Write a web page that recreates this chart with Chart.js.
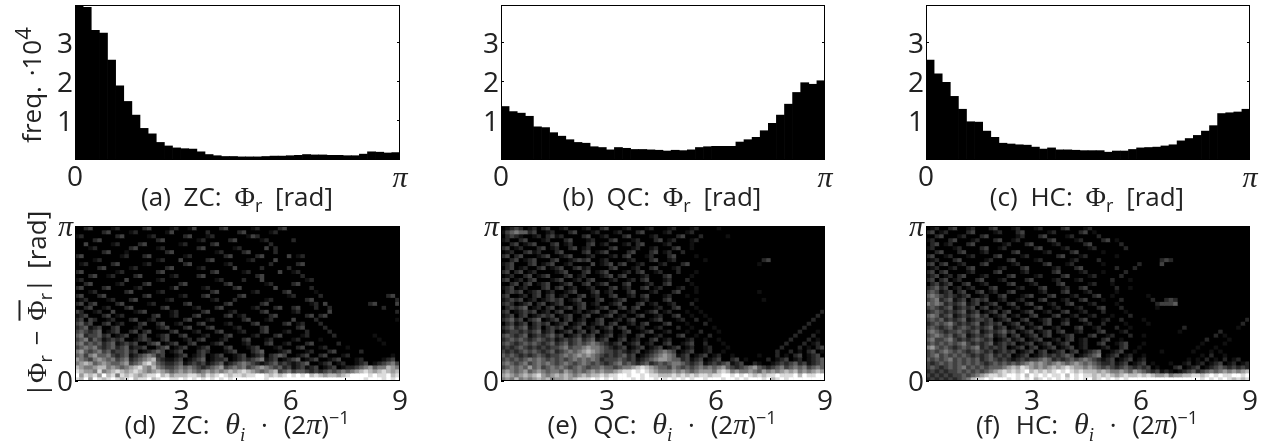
<!DOCTYPE html>
<html>
<head>
<meta charset="utf-8">
<script src="https://cdn.jsdelivr.net/npm/chart.js@4"></script>
<style>
  html, body { margin: 0; padding: 0; background: #fff; }
  #page { position: relative; width: 1274px; height: 444px; overflow: hidden; font-family: "Open Sans", sans-serif; color: #222; }
  canvas { position: absolute; }
  .cap { position: absolute; font-size: 26px; word-spacing: 6px; white-space: nowrap; transform: translateX(-50%); line-height: 28px; }
  .cap.low { word-spacing: 9px; }
  .ylab { position: absolute; font-size: 26px; word-spacing: 3px; white-space: nowrap; transform: translate(-50%, -50%) rotate(-90deg); line-height: 28px; }
  .m { font-family: "Liberation Serif", serif; font-size: 28px; }
  .i { font-family: "Liberation Serif", serif; font-style: italic; font-size: 30px; }
  .i sub { font-size: 19px; }
  sub, sup { font-size: 18px; line-height: 0; }
  .bar { text-decoration: overline; }
</style>
</head>
<body>
<div id="page">
  <canvas id="a"></canvas><canvas id="b"></canvas><canvas id="c"></canvas>
  <canvas id="d"></canvas><canvas id="e"></canvas><canvas id="f"></canvas>
  <div class="ylab" style="left:31px;top:85px">freq. ·10<sup style="font-size:22px">4</sup></div>
  <div class="ylab" style="left:36px;top:304px">|<span class="m">Φ</span><sub>r</sub> − <span class="m bar">Φ</span><sub>r</sub>| [rad]</div>
  <div class="cap" style="left:237px;top:182px">(a) ZC: <span class="m">Φ</span><sub>r</sub> [rad]</div>
  <div class="cap" style="left:662px;top:182px">(b) QC: <span class="m">Φ</span><sub>r</sub> [rad]</div>
  <div class="cap" style="left:1087px;top:182px">(c) HC: <span class="m">Φ</span><sub>r</sub> [rad]</div>
  <div class="cap low" style="left:237px;top:410px">(d) ZC: <span class="i">θ<sub>i</sub></span> · (2<span class="i">π</span>)<sup>−1</sup></div>
  <div class="cap low" style="left:662px;top:410px">(e) QC: <span class="i">θ<sub>i</sub></span> · (2<span class="i">π</span>)<sup>−1</sup></div>
  <div class="cap low" style="left:1087px;top:410px">(f) HC: <span class="i">θ<sub>i</sub></span> · (2<span class="i">π</span>)<sup>−1</sup></div>
</div>
<script>
// histogram heights, in units of 10^4, 40 bins over 0..pi
const histZC = [3.97,3.91,3.32,3.25,2.56,1.90,1.50,1.15,0.81,0.67,0.45,0.36,0.31,0.29,0.28,0.21,0.14,0.11,0.09,0.09,
  0.08,0.08,0.08,0.09,0.10,0.10,0.11,0.12,0.14,0.13,0.13,0.12,0.12,0.11,0.11,0.15,0.21,0.20,0.18,0.19];
const histQC = [1.37,1.24,1.20,1.12,0.85,0.83,0.70,0.61,0.52,0.45,0.43,0.34,0.32,0.26,0.32,0.30,0.27,0.27,0.26,0.25,
  0.23,0.25,0.24,0.26,0.32,0.34,0.35,0.35,0.35,0.46,0.52,0.58,0.75,0.94,1.15,1.43,1.73,1.98,1.94,2.03];
const histHC = [2.56,2.21,1.99,1.63,1.30,0.98,0.97,0.74,0.58,0.43,0.41,0.39,0.38,0.33,0.28,0.31,0.26,0.26,0.25,0.24,
  0.24,0.24,0.20,0.23,0.23,0.27,0.31,0.32,0.33,0.36,0.39,0.49,0.55,0.63,0.74,0.88,1.19,1.21,1.23,1.30];

// heatmap brightness read by eye, 0 = black .. 9 = white, top row first, 72 columns
const heatZC = [
  "002300001200 000230000120 013000002300 000120000230 000000000000 000000000000",
  "000000230000 120000001300 000002000000 230000012000 000000000000 000000000000",
  "120000000230 000012000000 230001200000 001320000000 000000000000 000000000000",
  "000023000000 000000230000 000120000023 000001200000 200000000000 000000000000",
  "003000001200 002300000001 200000230000 000000020000 000000000000 000000000000",
  "000120000000 230000120000 000230000001 200000302000 000000000000 000000000000",
  "000000230001 000000002300 000000012000 023000002000 000000000000 000000000000",
  "230000000012 000230000000 120000000230 000023000003 012000000000 000000000000",
  "000012000000 000000120003 000002300000 001200003000 000000000000 000000000000",
  "012000002300 000120000000 230000000120 000000020000 023000000000 000000000000",
  "000002300000 120000002300 000120000003 000002000002 000000000000 000000000000",
  "230000000120 000000230000 000000230000 012000000300 120000000000 000000000000",
  "000230012000 023000000120 000230000000 000023000000 002000000000 000000000000",
  "120000000003 000000120000 000000012000 020003000000 000120000000 000000000000",
  "002300000120 000230000002 300000000230 000000120000 230000000000 000000000000",
  "230000230000 012000000130 000012000002 300000003000 000020000000 000000000000",
  "000120000002 300000120000 000000230000 000120000023 000001000000 000000000000",
  "230002300000 000230000001 200023000000 230000000001 200000200000 000000000230",
  "012000012000 230000001200 000000120002 000000120000 000230000000 000000000002",
  "230230000230 000012000000 230000000230 000002300000 000012030000 000002300003",
  "002300120002 300000023000 001200023000 000120002300 230002002000 000000002000",
  "320012003000 012300000120 000023000012 000002300000 120000003000 000000000002",
  "123000230120 000002300120 002300000230 120000023000 000230230000 000000000000",
  "230320012000 230012000000 230001200000 023000120000 300002000000 000000000001",
  "342300230120 002300230012 000230000120 000230000023 012000200000 000000000000",
  "234123002300 012000123000 230002300001 200002300000 023000020000 000000000000",
  "343234012300 230230000230 001200023000 120002300012 000200002000 000000000000",
  "452334230123 002300123002 300012000230 000120002300 001200000200 000000100000",
  "345243123230 012320023000 120230001200 023000120000 120000100000 000000010000",
  "453434234123 230023401230 023000123000 012000230012 000230000020 000000001000",
  "345453234234 122300234012 300123000230 001230001200 023000120000 100000000000",
  "564345342334 230123430123 000232000123 000234000123 000120002300 000200000000",
  "453564453234 123454230012 301230123001 230123023430 012300230001 200000000010",
  "654356545345 234567321123 012340122301 232345123012 340123001230 001200001230",
  "567645654456 345786432234 123231234123 454321234232 123400123012 001230123453",
  "765567756545 678657543345 454323456345 453456543423 123123012301 223456455765",
  "876658567876 787656765456 565456565676 787654567345 344323234345 456787678767",
  "968786978587 876788978677 788768789878 878899878789 898978767767 899998988978",
  "879698789878 978897899889 898989898989 999999899999 999999999999 999989998989"
];
const heatQC = [
  "012320120230 012000120023 000120001200 012000120000 100000000000 000000000000",
  "134544230012 000230001200 012000230000 120001200000 000000000000 000000000000",
  "023210012023 120000230012 000230000120 000230002000 001000000000 000000000000",
  "120023000120 002300012000 230001200023 012000120000 000000000000 000000000000",
  "002301230002 301200023012 000120230000 120000100000 000000000000 000000000000",
  "230120002301 200230120000 230001200120 002300100000 000000000000 000000000000",
  "012002312000 230000230123 000023000230 120020000000 000000000000 000000000000",
  "230230001230 012300012000 120230001200 023000010000 000000000000 000000000000",
  "002301230002 300123230012 000012000230 012000000100 000000000023 000000000000",
  "123000230123 001200003012 302300120001 200023000000 000000000100 000000000000",
  "023012002301 230023120000 230001200230 001200000000 000000000000 000000000000",
  "230230120000 123000230123 000120230012 000200010000 000000000000 000000000000",
  "012002301230 002301200012 302300012000 230000100000 000000000000 000000000000",
  "230120230001 230012023000 120012023000 120002000000 000000000000 000000000000",
  "002302301230 012300230123 000230001200 230000100000 000000000000 000000000000",
  "123012000230 230120012000 230120023012 000120010000 000000000000 000000000000",
  "023230123012 001230002301 200023000120 002300010000 000000000100 000000000000",
  "230012023023 012002301200 230012023000 120001000000 000000000000 000000000000",
  "123230120123 230123000230 012300012000 230000010000 000000000010 000000000000",
  "232012302301 230012301200 123000230120 012000200000 000000000000 000000000000",
  "023234012023 012302300123 002302300012 002300010000 000000000000 000000000000",
  "230123230120 230012012300 230012001230 120001001000 000000000000 000000000002",
  "123023012323 012300230012 301200230012 002300100100 000000000000 000000000020",
  "234230234012 302301200230 012023000123 000120020010 000000000000 000000000200",
  "023123023230 123012301230 230012023000 230001000200 000000000000 000000002000",
  "234234123023 230123012012 302300120012 000200100001 000000000000 000000020000",
  "123323234123 012302302301 200230012300 120001002000 100000000000 000000200010",
  "343234123234 230123123012 301200230012 000230010020 000000000000 000002000200",
  "234343234323 123234234123 002301200230 120001200100 100000000000 000020002010",
  "343234343234 234234345432 123012301200 230012300200 010000000000 000200020120",
  "232343232323 345344565543 212301230123 012301200120 001000000000 002000201023",
  "323234343234 234545676543 323212301234 543012300120 010000000000 020020102301",
  "434323234323 345456565432 323423012345 654123012301 200100000100 020102301230",
  "343434545434 343454545423 334323123456 654423123012 300230100002 012301201234",
  "454345345454 345434543432 345343234234 345543234123 234123002100 123234231234",
  "345454645345 454345434454 434556787654 435434345454 564323456432 345345453454",
  "565456456545 546545456565 567889898765 556565456665 787565565465 656767565676",
  "676567678656 767656767787 889989989887 778787878878 899898987878 898889798899",
  "565756567675 667678889898 989998989989 898989899899 989989899989 789899999999"
];
const heatHC = [
  "012002300120 002300012000 120000230001 200000000000 000000000000 000000000000",
  "230120000230 000120002300 000120000023 010000000000 000000000000 000000000000",
  "002300012000 230000001200 023000012000 002000000000 000000000000 000000000000",
  "120002300012 000230012000 000230000120 000230100000 000000000000 000000000000",
  "023012000230 000001200023 000012000002 300000020000 000000000000 000000000000",
  "120000120000 230012000000 230000120000 120000002000 000000000000 000000000000",
  "002300023000 120000023000 001200002300 000100000000 000000000000 000000000000",
  "230012000120 000230000120 000002300012 000000100000 000000000000 000000000000",
  "012000230000 012000230000 120000001200 002000000000 000023200000 000000000000",
  "230230012000 230000012000 002300012000 000100000002 000030000000 000000000000",
  "012001200230 000012000230 000012000230 000000200020 000000000000 000000000000",
  "230230000120 000230000120 000023000012 000100002000 000000000000 000000000000",
  "123012023000 120000230000 120000230000 120000020000 000000000000 000000000000",
  "230230120002 300012000023 000012000120 000002000100 000000000000 000000000000",
  "023123002300 120000230001 200002300000 120001000000 000000000000 000000000000",
  "234230120120 002300001200 023000120023 000000200100 000000000000 000000000000",
  "343123023002 301200230000 012000230001 200000100000 000000000000 000000000000",
  "454323212300 120023000123 000230001200 023001000000 010000000000 000000000000",
  "345234123023 230012001200 023000120023 000100020000 002002320000 000000000000",
  "545423234123 012300230023 000120023000 120000100000 000233340000 000000000000",
  "343234123230 230120012000 230012000120 002300020000 000100000000 000000000000",
  "234323234123 012302300123 001200230012 000200001000 000000000000 000000000000",
  "454234123234 230123012002 300023001200 120001000200 000000000000 000000000000",
  "343423234123 323012300230 012300120023 000120020000 100000000000 000000000002",
  "234345323234 123230123012 002300230001 200200001000 010000000000 000000000020",
  "343234234323 234123012301 230012000230 012000200100 000000000200 000000000100",
  "454323343234 123234230123 012302300120 002300012000 000000001000 000002000000",
  "345434234123 234123023012 302300123000 230012000200 100000000000 000020100000",
  "453345323234 323012312301 230012023012 000230010000 000000000000 002000010000",
  "343434345323 234123230123 012301230012 002300123000 100000000000 010000100000",
  "564343234345 232323012302 301230123012 000120023001 000000000000 100010000000",
  "343454343234 323123230123 023012302301 234001230010 000010000001 000101000000",
  "345343434323 234232301230 123232343012 345012301200 100000000000 010200100000",
  "434345343434 234323212323 345423234345 432123012301 200000000010 102010201200",
  "323434343434 323434343456 565456545654 543223123012 301000100120 120123012012",
  "343234345343 434445676876 565676787665 654343234323 230100023012 301234323232",
  "232323343434 345678787897 878789898787 776765565465 432312101234 234545656567",
  "323232334345 678878998979 898988979898 878787678778 787667566778 878989889989",
  "232323234578 898999898989 789898989898 978989898999 999999999999 989898987878"
];

const histTicksY = [1, 2, 3];
const histMaxY = 3.97;
const heatMinX = 0.08, heatMaxX = 9;
const heatTicksX = [3, 6, 9];
const PI = Math.PI;

const SANS = '"Open Sans", sans-serif';
const leftGap = 60, topGap = 10, rightGap = 10, bottomGap = 50;

// black frame around the plot, and the black behind the heatmap cells
const framePlugin = {
  id: 'frame',
  beforeDatasetsDraw(chart, args, opts) {
    if (!opts.dark) return;
    const a = chart.chartArea;
    chart.ctx.fillStyle = '#000';
    chart.ctx.fillRect(a.left, a.top, a.width, a.height);
    chart.ctx.filter = 'blur(0.5px)';
  },
  afterDatasetsDraw(chart) {
    chart.ctx.filter = 'none';
  },
  afterDraw(chart) {
    const a = chart.chartArea, ctx = chart.ctx;
    ctx.save();
    ctx.strokeStyle = '#000';
    ctx.lineWidth = 1;
    ctx.strokeRect(Math.round(a.left) + 0.5, Math.round(a.top) + 0.5, Math.round(a.width) - 1, Math.round(a.height) - 1);
    ctx.restore();
  }
};

function place(id, left, top, w, h) {
  const c = document.getElementById(id);
  c.width = w + leftGap + rightGap;
  c.height = h + topGap + bottomGap;
  c.style.left = (left - leftGap) + 'px';
  c.style.top = (top - topGap) + 'px';
  return c;
}

function tickFont(ctx) {
  if (ctx.tick && Math.abs(ctx.tick.value - PI) < 0.001) return { family: 'Liberation Serif', style: 'italic', size: 30 };
  return { family: SANS, size: 28 };
}
function tickLabel(v) {
  return Math.abs(v - PI) < 0.001 ? 'π' : String(v);
}

// no extra room for labels that stick out past the plot
function noPadding(s) {
  s.paddingTop = s.paddingBottom = s.paddingLeft = s.paddingRight = 0;
}

function axis(extra) {
  return Object.assign({
    type: 'linear',
    border: { display: false },
    grid: { drawOnChartArea: false, drawTicks: true, tickLength: -3, tickColor: '#000', z: 1 }
  }, extra);
}

function baseOptions(xCfg, yCfg, rightTicks, dark) {
  return {
    responsive: false,
    animation: false,
    events: [],
    layout: { autoPadding: false, padding: { top: topGap, right: rightGap } },
    plugins: { legend: { display: false }, tooltip: { enabled: false }, frame: { dark: dark } },
    scales: {
      x: axis(Object.assign({
        position: 'bottom',
        afterFit(s) { s.height = bottomGap; noPadding(s); }
      }, xCfg)),
      y: axis(Object.assign({
        position: 'left',
        afterFit(s) { s.width = leftGap; noPadding(s); }
      }, yCfg)),
      yr: axis({
        position: 'right',
        min: yCfg.min, max: yCfg.max,
        ticks: { display: false },
        afterBuildTicks(s) { s.ticks = rightTicks.map(v => ({ value: v })); },
        afterFit(s) { s.width = 0; noPadding(s); }
      })
    }
  };
}

function histChart(id, left, top, w, h, values) {
  const centers = values.map((v, i) => (i + 0.5) * PI / values.length);
  new Chart(place(id, left, top, w, h), {
    type: 'bar',
    data: {
      datasets: [{
        data: values.map((v, i) => ({ x: centers[i], y: v })),
        backgroundColor: '#000',
        barPercentage: 1,
        categoryPercentage: 1
      }]
    },
    options: baseOptions({
      min: 0, max: PI, offset: false,
      ticks: { autoSkip: false, maxRotation: 0, padding: 4, color: '#222', font: tickFont, callback: tickLabel },
      afterBuildTicks(s) { s.ticks = [0, PI].map(v => ({ value: v })); }
    }, {
      min: 0, max: histMaxY,
      ticks: { autoSkip: false, padding: 5, labelOffset: 2, color: '#222', font: tickFont, callback: tickLabel },
      afterBuildTicks(s) { s.ticks = histTicksY.map(v => ({ value: v })); }
    }, histTicksY, false),
    plugins: [framePlugin]
  });
}

function heatChart(id, left, top, w, h, rows) {
  const grid = rows.map(r => r.replace(/ /g, '').split('').map(Number));
  const nRows = grid.length, nCols = grid[0].length;
  const dx = (heatMaxX - heatMinX) / nCols, dy = PI / nRows;
  const datasets = grid.map((row, r) => ({
    data: row.map((v, c) => ({ x: heatMinX + (c + 0.5) * dx, y: [PI - (r + 1) * dy, PI - r * dy] })),
    backgroundColor: row.map(v => { const g = Math.round(Math.pow(v / 9, 1.25) * 255); return `rgb(${g},${g},${g})`; }),
    grouped: false,
    barPercentage: 1,
    categoryPercentage: 1
  }));
  new Chart(place(id, left, top, w, h), {
    type: 'bar',
    data: { datasets: datasets },
    options: baseOptions({
      min: heatMinX, max: heatMaxX, offset: false,
      ticks: { autoSkip: false, maxRotation: 0, padding: 7, color: '#222', font: tickFont, callback: tickLabel },
      afterBuildTicks(s) { s.ticks = heatTicksX.map(v => ({ value: v })); }
    }, {
      min: 0, max: PI,
      ticks: { autoSkip: false, padding: 5, labelOffset: 2, color: '#222', font: tickFont, callback: tickLabel },
      afterBuildTicks(s) { s.ticks = [0, PI].map(v => ({ value: v })); }
    }, [], true),
    plugins: [framePlugin]
  });
}

histChart('a', 75, 5, 325, 155, histZC);
histChart('b', 501, 5, 324, 155, histQC);
histChart('c', 926, 5, 324, 155, histHC);
heatChart('d', 75, 226, 325, 155, heatZC);
heatChart('e', 501, 226, 324, 155, heatQC);
heatChart('f', 926, 226, 324, 155, heatHC);
</script>
</body>
</html>
